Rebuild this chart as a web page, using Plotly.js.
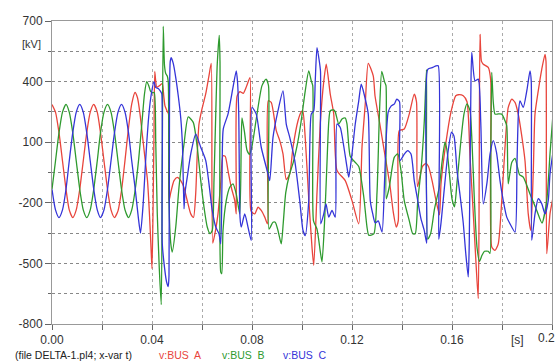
<!DOCTYPE html>
<html><head><meta charset="utf-8">
<script src="https://cdn.plot.ly/plotly-3.0.1.min.js"></script>
<style>html,body{margin:0;padding:0;background:#fff}#chart{width:557px;height:361px}</style>
</head><body><div id="chart"></div>
<script>
// Time [s] and voltage [kV] for v:BUS A (red)
const tA = [0,.0014,.0028,.0042,.0056,.0069,.0083,.0097,.0111,.0125,.0139,.0153,.0167,.0181,.0194,.0208,.0222,.0236,.0250,.0264,.0278,.0292,.0306,.0319,.0332,.0342,.0352,.0362,.0372,.0382,.0390,.0396,.0400,.0404,.0408,.0411,.0415,.0419,.0430,.0441,.0447,.0452,.0462,.0466,.0468,.0475,.0488,.0501,.0515,.0528,.0541,.0555,.0566,.0575,.0581,.0588,.0600,.0615,.0628,.0637,.0643,.0655,.0664,.0675,.0684,.0693,.0704,.0717,.0731,.0737,.0740,.0752,.0765,.0779,.0792,.0796,.0811,.0824,.0837,.0851,.0862,.0865,.0877,.0897,.0911,.0924,.0937,.0951,.0964,.0984,.0997,.1003,.1013,.1027,.1040,.1047,.1060,.1073,.1087,.1097,.1113,.1127,.1140,.1173,.1200,.1227,.1240,.1253,.1265,.1285,.1292,.1310,.1330,.1352,.1365,.1377,.1385,.1389,.1409,.1429,.1449,.1458,.1462,.1482,.1496,.1506,.1523,.1536,.1550,.1556,.1576,.1596,.1615,.1625,.1645,.1660,.1672,.1685,.1697,.1705,.1709,.1712,.1718,.1725,.1745,.1755,.1759,.1772,.1785,.1799,.1812,.1825,.1839,.1852,.1865,.1878,.1892,.1905,.1915,.1925,.1932,.1945,.1959,.1972,.1976,.1979,.1992,.2003];
const vA = [287,249,147,7,-133,-235,-273,-235,-133,7,147,249,287,249,147,7,-133,-235,-273,-240,-140,10,170,290,346,320,240,130,20,-90,-260,-420,-526,-250,150,450,400,372,380,390,330,280,250,240,-190,-150,-90,-74,-90,-125,-190,-255,-272,-150,42,190,265,340,430,490,-400,-330,-255,-100,33,30,-41,-123,-189,-255,327,350,342,380,420,-240,-255,-222,-238,-271,-304,305,297,157,108,42,-85,-57,75,206,250,255,120,-180,-420,-510,-150,190,400,486,338,239,-40,-90,-189,-304,75,289,490,428,330,200,50,-116,-245,-320,-290,157,165,239,338,300,-120,-20,-5,-20,-106,-189,-260,-106,100,250,330,335,330,300,30,-250,-520,-674,0,634,500,486,470,404,-419,-436,-403,-189,75,272,313,297,239,140,8,-255,-337,-50,239,354,461,535,500,-452,-255,-180];

// v:BUS B (green)
const tB = [0,.0014,.0028,.0042,.0056,.0069,.0083,.0097,.0111,.0125,.0139,.0153,.0167,.0181,.0194,.0208,.0222,.0236,.0250,.0264,.0278,.0292,.0306,.0319,.0333,.0347,.0360,.0370,.0379,.0387,.0395,.0403,.0409,.0415,.0421,.0429,.0437,.0441,.0445,.0450,.0455,.0461,.0465,.0468,.0475,.0481,.0495,.0508,.0528,.0545,.0565,.0581,.0595,.0608,.0621,.0632,.0641,.0648,.0655,.0661,.0669,.0672,.0675,.0679,.0684,.0697,.0711,.0724,.0737,.0751,.0757,.0760,.0770,.0780,.0790,.0800,.0819,.0840,.0856,.0866,.0868,.0884,.0893,.0904,.0917,.0925,.0935,.0950,.0965,.0980,.0995,.1013,.1027,.1037,.1043,.1046,.1060,.1073,.1080,.1090,.1100,.1107,.1113,.1127,.1133,.1147,.1160,.1173,.1180,.1193,.1213,.1227,.1247,.1260,.1267,.1287,.1300,.1310,.1319,.1330,.1336,.1337,.1349,.1369,.1383,.1396,.1409,.1429,.1443,.1453,.1463,.1476,.1489,.1498,.1503,.1515,.1530,.1549,.1560,.1572,.1580,.1590,.1600,.1610,.1620,.1635,.1648,.1660,.1672,.1680,.1690,.1700,.1710,.1720,.1730,.1745,.1752,.1755,.1759,.1765,.1772,.1785,.1799,.1812,.1819,.1825,.1839,.1852,.1870,.1885,.1912,.1939,.1960,.1979,.1992,.2003];
const vB = [-133,7,147,249,287,249,147,7,-133,-235,-273,-235,-133,7,147,249,287,249,147,7,-133,-235,-273,-235,-133,20,200,340,400,380,350,345,346,100,-250,-520,-704,0,674,480,440,428,400,-200,-400,-444,-320,-123,91,225,198,75,-90,-222,-320,-353,-337,-90,239,486,629,500,-543,-551,-337,-189,-123,-106,-156,-255,100,220,150,60,40,80,231,380,412,380,-330,-296,-296,-337,-403,-300,-150,-60,0,80,190,354,453,404,380,-290,-330,-440,-493,-300,0,200,256,260,250,190,215,220,190,30,0,-20,-170,-320,-360,-354,-150,250,450,400,380,-180,-123,25,42,-40,-189,-288,-353,-353,-189,-40,200,460,-380,-350,-230,-123,0,100,60,-60,-180,-220,-100,100,240,290,256,100,-200,-420,-490,-460,-440,-440,-450,0,446,300,239,240,239,206,181,-106,0,20,-60,-73,-156,-238,-300,-189,42,223];

// v:BUS C (blue)
const tC = [0,.0014,.0028,.0042,.0056,.0069,.0083,.0097,.0111,.0125,.0139,.0153,.0167,.0181,.0194,.0208,.0222,.0236,.0250,.0264,.0278,.0292,.0306,.0319,.0333,.0345,.0354,.0365,.0375,.0385,.0395,.0408,.0415,.0425,.0435,.0439,.0441,.0450,.0458,.0465,.0468,.0470,.0473,.0477,.0485,.0495,.0505,.0515,.0522,.0528,.0532,.0541,.0555,.0575,.0595,.0615,.0628,.0641,.0655,.0668,.0675,.0680,.0685,.0704,.0724,.0737,.0742,.0747,.0752,.0757,.0771,.0784,.0797,.0800,.0817,.0837,.0864,.0871,.0884,.0904,.0924,.0937,.0951,.0971,.0991,.1004,.1013,.1027,.1037,.1047,.1053,.1060,.1069,.1074,.1075,.1087,.1096,.1107,.1120,.1133,.1140,.1153,.1167,.1180,.1187,.1200,.1213,.1227,.1237,.1250,.1265,.1273,.1283,.1293,.1305,.1320,.1330,.1336,.1345,.1357,.1370,.1379,.1390,.1392,.1410,.1423,.1436,.1449,.1463,.1476,.1489,.1499,.1503,.1523,.1536,.1545,.1547,.1556,.1570,.1585,.1598,.1608,.1620,.1632,.1645,.1655,.1665,.1669,.1675,.1679,.1692,.1705,.1715,.1725,.1740,.1752,.1765,.1778,.1792,.1805,.1819,.1832,.1852,.1860,.1866,.1872,.1885,.1900,.1912,.1917,.1919,.1932,.1945,.1959,.1972,.1985,.1992,.2003];
const vC = [-133,-235,-273,-235,-133,7,147,249,287,249,147,7,-133,-235,-273,-235,-133,7,147,249,287,249,147,7,-133,-270,-350,-200,20,200,320,400,370,366,350,340,-400,-520,-590,-615,-560,300,500,519,490,420,330,220,80,-230,-150,-73,42,140,75,9,-106,-238,-320,-353,-403,-100,165,239,371,453,400,239,-271,-320,-255,-320,-386,272,239,75,-57,-90,124,256,354,190,124,9,-189,-337,-362,-189,239,256,404,568,503,450,-304,-255,-205,-271,-238,-271,190,173,80,-24,-73,42,190,305,387,330,239,-189,-255,-300,-290,-345,-100,100,250,280,290,313,300,9,42,58,42,-90,-189,-280,-337,-400,461,470,478,478,-380,-300,-120,60,150,130,-40,-160,-300,-450,-567,-400,300,544,404,412,200,-205,-100,40,108,50,-90,-189,-271,-304,-345,0,250,305,272,360,453,400,-386,-255,-180,-205,-255,-189,-57,42];

const xTicks = [0, 0.04, 0.08, 0.12, 0.16, 0.2];
const xTickText = ['0.00', '0.04', '0.08', '0.12', '0.16', ''];
const lastXLabel = '0.2';
const yTicks = [-800, -500, -200, 100, 400, 700];
const yTickText = ['-800', '-500', '-200', '100', '400', '700'];

const font = 'Liberation Sans, Arial, sans-serif';
const mk = (t, v, c) => ({x: t, y: v, type: 'scatter', mode: 'lines',
  line: {color: c, width: 1.3, shape: 'spline', smoothing: 0.6}, hoverinfo: 'skip'});

const traces = [mk(tA, vA, '#e8453c'), mk(tB, vB, '#2e9a2e'), mk(tC, vC, '#3434d8')];

const layout = {
  width: 557, height: 361,
  margin: {l: 52, r: 5, t: 21, b: 37},
  paper_bgcolor: '#fff', plot_bgcolor: '#fff',
  showlegend: false,
  font: {family: font, size: 12, color: '#333'},
  xaxis: {
    range: [0, 0.2], tickvals: xTicks, ticktext: xTickText,
    ticks: 'outside', ticklen: 5, tickcolor: '#666',
    showgrid: true, gridcolor: '#aaa', griddash: 'dot', gridwidth: 1,
    minor: {dtick: 0.02, tick0: 0, showgrid: true, gridcolor: '#aaa', griddash: 'dot', ticks: 'outside', ticklen: 5, tickcolor: '#666'},
    showline: true, mirror: true, linecolor: '#999', linewidth: 1,
    zeroline: false, tickfont: {family: font, size: 12, color: '#333'}
  },
  yaxis: {
    range: [-800, 700], tickvals: yTicks, ticktext: yTickText,
    ticks: 'outside', ticklen: 6, tickcolor: '#666',
    showgrid: true, gridcolor: '#888', griddash: 'dot', gridwidth: 1,
    minor: {dtick: 150, tick0: -800, showgrid: true, gridcolor: '#888', griddash: 'dot', ticks: 'outside', ticklen: 3, tickcolor: '#666'},
    showline: true, mirror: true, linecolor: '#999', linewidth: 1,
    zeroline: false, tickfont: {family: font, size: 12, color: '#333'}
  },
  annotations: [
    {text: lastXLabel, xref: 'paper', yref: 'paper', x: 1.009, y: -0.045, xanchor: 'right', yanchor: 'middle', showarrow: false, font: {family: font, size: 12, color: '#333'}},
    {text: '[kV]', xref: 'paper', yref: 'paper', x: -0.042, y: 0.924, xanchor: 'center', yanchor: 'middle', showarrow: false, font: {family: font, size: 11, color: '#333'}},
    {text: '[s]', xref: 'paper', yref: 'paper', x: 0.93, y: -0.053, xanchor: 'center', yanchor: 'middle', showarrow: false, font: {family: font, size: 12, color: '#333'}},
    {text: '(file DELTA-1.pl4; x-var t)', xref: 'paper', yref: 'paper', x: -0.078, y: -0.102, xanchor: 'left', yanchor: 'middle', showarrow: false, font: {family: font, size: 10.5, color: '#222'}},
    {text: 'v:BUS\u00a0 A', xref: 'paper', yref: 'paper', x: 0.21, y: -0.102, xanchor: 'left', yanchor: 'middle', showarrow: false, font: {family: font, size: 10.5, color: '#e8453c'}},
    {text: 'v:BUS\u00a0 B', xref: 'paper', yref: 'paper', x: 0.336, y: -0.102, xanchor: 'left', yanchor: 'middle', showarrow: false, font: {family: font, size: 10.5, color: '#2e9a2e'}},
    {text: 'v:BUS\u00a0 C', xref: 'paper', yref: 'paper', x: 0.458, y: -0.102, xanchor: 'left', yanchor: 'middle', showarrow: false, font: {family: font, size: 10.5, color: '#3434d8'}}
  ]
};

Plotly.newPlot('chart', traces, layout, {staticPlot: true, displayModeBar: false});
</script></body></html>
